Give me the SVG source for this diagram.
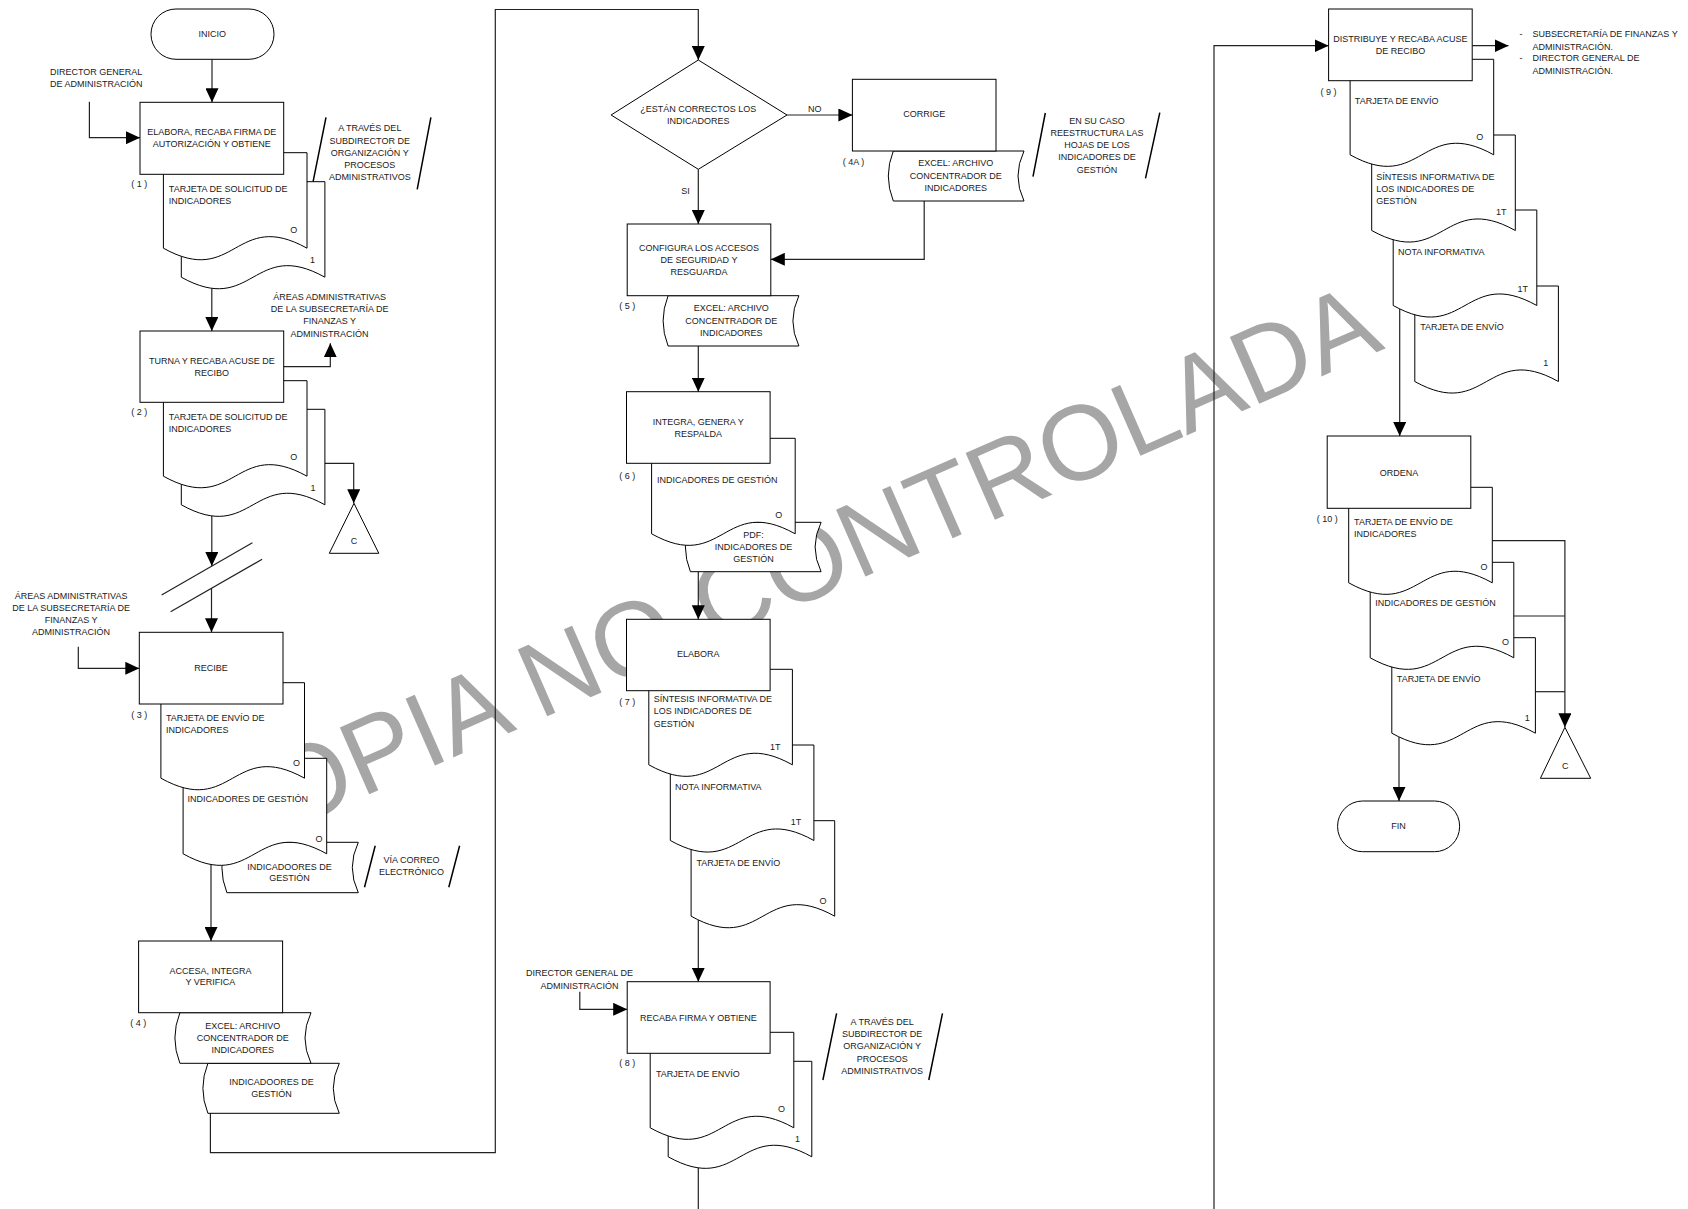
<svg xmlns="http://www.w3.org/2000/svg" width="1688" height="1209" viewBox="0 0 1688 1209">
<defs>
<style>
.n{fill:#fff;stroke:#000;stroke-width:1}
.t{font-family:"Liberation Sans",Arial,sans-serif;font-size:9px;fill:#1a1a1a;dominant-baseline:central}
.m{text-anchor:middle}
.e{fill:none;stroke:#222;stroke-width:1.2}
.a{marker-end:url(#ah)}
.s{stroke:#000;stroke-width:1.5;fill:none}
.wm{font-family:"Liberation Sans",Arial,sans-serif;font-size:106px;fill:#a6a6a6;text-anchor:middle;dominant-baseline:central}
</style>
<marker id="ah" markerWidth="14" markerHeight="13" refX="14" refY="6.5" orient="auto" markerUnits="userSpaceOnUse"><path d="M0,0 L14,6.5 L0,13 Z" fill="#000"/></marker>
</defs>
<rect width="1688" height="1209" fill="#fff"/>
<text class="wm" transform="translate(786 571) rotate(-23.7)">COPIA NO CONTROLADA</text>

<g id="connectors">
<path class="e a" d="M212,59.3 V102.3"/>
<path class="e a" d="M89.4,101.7 V137.7 H140"/>
<path class="e a" d="M211.8,270 V331"/>
<path class="e a" d="M283.7,366.7 H330.3 V343.3"/>
<path class="e a" d="M324.9,463.3 H353.7 V503.3"/>
<path class="e a" d="M211.8,495 V566"/>
<path class="e" d="M161.6,595 L252.4,542.7"/>
<path class="e" d="M170.6,611.7 L262.1,559.3"/>
<path class="e a" d="M211.5,588 V632.3"/>
<path class="e a" d="M78.3,646.7 V668.3 H139.3"/>
<path class="e a" d="M211,850 V941"/>
<path class="e a" d="M210.4,1105 V1152.7 H495.3 V9.5 H698.3 V60"/>
<path class="e a" d="M787,115 H852.4"/>
<path class="e a" d="M698.3,169.3 V224"/>
<path class="e a" d="M924.2,201 V259.3 H770.8"/>
<path class="e a" d="M698.3,346 V391.7"/>
<path class="e a" d="M698.3,571.7 V619.3"/>
<path class="e a" d="M698.3,905 V981.7"/>
<path class="e a" d="M579.8,991.7 V1009.3 H627.2"/>
<path class="e" d="M698.3,1150 V1209"/>
<path class="e a" d="M1214,1209 V45.7 H1328.6"/>
<path class="e a" d="M1472.2,45.7 H1508.5"/>
<path class="e a" d="M1399.7,300 V436"/>
<path class="e a" d="M1492.3,540.7 H1564.9 V727.3"/>
<path class="e" d="M1513.8,616 H1564.9"/>
<path class="e" d="M1535.4,691.7 H1564.9"/>
<path class="e a" d="M1399,730 V801"/>
</g>

<g id="inicio">
<rect class="n" x="151" y="9" width="123" height="50.3" rx="25"/>
<text class="t m" x="212.2" y="33.7">INICIO</text>
</g>

<g id="director1">
<text class="t m" x="96.2" y="71.7">DIRECTOR GENERAL</text>
<text class="t m" x="96.2" y="83.7">DE ADMINISTRACIÓN</text>
</g>

<g id="step1">
<path class="n" d="M181.3,181.7 H324.9 V277.2 C253.1,237.2 253.1,317.2 181.3,277.2 Z"/>
<path class="n" d="M163.4,152.7 H307 V248.2 C235.2,208.2 235.2,288.2 163.4,248.2 Z"/>
<rect class="n" x="140" y="102.3" width="143.7" height="72"/>
<text class="t m" x="211.8" y="131.7">ELABORA, RECABA FIRMA DE</text>
<text class="t m" x="211.8" y="144.3">AUTORIZACIÓN Y OBTIENE</text>
<text class="t m" x="139.3" y="184">( 1 )</text>
<text class="t" x="168.8" y="188.7">TARJETA DE SOLICITUD DE</text>
<text class="t" x="168.8" y="200.7">INDICADORES</text>
<text class="t m" x="293.7" y="230">O</text>
<text class="t m" x="312.4" y="260">1</text>
</g>

<g id="note1">
<path class="s" d="M326,117.3 L313.1,181.7 M430.9,117.3 L417.2,189.3"/>
<text class="t m" x="369.8" y="128.3">A TRAVÉS DEL</text>
<text class="t m" x="369.8" y="140.7">SUBDIRECTOR DE</text>
<text class="t m" x="369.8" y="152.7">ORGANIZACIÓN Y</text>
<text class="t m" x="369.8" y="164.7">PROCESOS</text>
<text class="t m" x="369.8" y="177">ADMINISTRATIVOS</text>
</g>

<g id="areas1">
<text class="t m" x="329.6" y="297">ÁREAS ADMINISTRATIVAS</text>
<text class="t m" x="329.6" y="309.3">DE LA SUBSECRETARÍA DE</text>
<text class="t m" x="329.6" y="321.3">FINANZAS Y</text>
<text class="t m" x="329.6" y="334">ADMINISTRACIÓN</text>
</g>

<g id="step2">
<path class="n" d="M181.3,409.3 H324.9 V504.8 C253.1,464.8 253.1,544.8 181.3,504.8 Z"/>
<path class="n" d="M163.4,380.7 H307 V476.2 C235.2,436.2 235.2,516.2 163.4,476.2 Z"/>
<rect class="n" x="140" y="331" width="143.7" height="71.3"/>
<text class="t m" x="211.8" y="360.7">TURNA Y RECABA ACUSE DE</text>
<text class="t m" x="211.8" y="372.7">RECIBO</text>
<text class="t m" x="139.3" y="412">( 2 )</text>
<text class="t" x="168.8" y="416.7">TARJETA DE SOLICITUD DE</text>
<text class="t" x="168.8" y="428.7">INDICADORES</text>
<text class="t m" x="293.7" y="457.3">O</text>
<text class="t m" x="313.1" y="487.7">1</text>
</g>

<g id="conector-c1">
<path class="n" d="M354,503.3 L378.8,553.3 L329.3,553.3 Z"/>
<text class="t m" x="353.9" y="540.7">C</text>
</g>

<g id="areas2">
<text class="t m" x="71.1" y="595.7">ÁREAS ADMINISTRATIVAS</text>
<text class="t m" x="71.1" y="608.3">DE LA SUBSECRETARÍA DE</text>
<text class="t m" x="71.1" y="620">FINANZAS Y</text>
<text class="t m" x="71.1" y="632.3">ADMINISTRACIÓN</text>
</g>

<g id="step3">
<path class="n" d="M226.9,842.3 H358.3 Q346.3,867.5 358.3,892.7 H226.9 Q216.9,867.5 226.9,842.3 Z"/>
<path class="n" d="M183.1,758.3 H326.7 V853.8 C254.9,813.8 254.9,893.8 183.1,853.8 Z"/>
<path class="n" d="M160.9,682.7 H304.5 V778.2 C232.7,738.2 232.7,818.2 160.9,778.2 Z"/>
<rect class="n" x="139.3" y="632.3" width="143.7" height="71.7"/>
<text class="t m" x="211.1" y="667.7">RECIBE</text>
<text class="t m" x="139.3" y="715">( 3 )</text>
<text class="t" x="165.9" y="718.3">TARJETA DE ENVÍO DE</text>
<text class="t" x="165.9" y="730.3">INDICADORES</text>
<text class="t m" x="296.6" y="762.7">O</text>
<text class="t" x="187.4" y="799.3">INDICADORES DE GESTIÓN</text>
<text class="t m" x="318.9" y="838.7">O</text>
<text class="t m" x="289.4" y="866.7">INDICADOORES DE</text>
<text class="t m" x="289.4" y="878.3">GESTIÓN</text>
</g>

<g id="note3">
<path class="s" d="M375.2,845.7 L364.5,887.3 M459.6,845.7 L448.8,887.3"/>
<text class="t m" x="411.5" y="860">VÍA CORREO</text>
<text class="t m" x="411.5" y="872.3">ELECTRÓNICO</text>
</g>

<g id="step4">
<path class="n" d="M207.9,1063.3 H339.3 Q327.3,1088.3 339.3,1113.3 H207.9 Q197.9,1088.3 207.9,1063.3 Z"/>
<path class="n" d="M179.9,1012.7 H311 Q299,1038 311,1063.3 H179.9 Q169.9,1038 179.9,1012.7 Z"/>
<rect class="n" x="138.6" y="941" width="144" height="71.7"/>
<text class="t m" x="210.4" y="970.7">ACCESA, INTEGRA</text>
<text class="t m" x="210.4" y="982.3">Y VERIFICA</text>
<text class="t m" x="138.2" y="1022.7">( 4 )</text>
<text class="t m" x="242.7" y="1025.7">EXCEL: ARCHIVO</text>
<text class="t m" x="242.7" y="1037.7">CONCENTRADOR DE</text>
<text class="t m" x="242.7" y="1049.7">INDICADORES</text>
<text class="t m" x="271.5" y="1081.7">INDICADOORES DE</text>
<text class="t m" x="271.5" y="1093.7">GESTIÓN</text>
</g>

<g id="decision">
<path class="n" d="M698.3,60 L787,115 L698.3,169.3 L611.1,115 Z"/>
<text class="t m" x="698.3" y="108.7">¿ESTÁN CORRECTOS LOS</text>
<text class="t m" x="698.3" y="120.7">INDICADORES</text>
<text class="t m" x="814.7" y="108.7">NO</text>
<text class="t m" x="685.4" y="191">SI</text>
</g>

<g id="step4a">
<path class="n" d="M893.3,151 H1024 Q1012,176 1024,201 H893.3 Q883.3,176 893.3,151 Z"/>
<rect class="n" x="852.4" y="79.3" width="143.6" height="71.7"/>
<text class="t m" x="924.2" y="114.3">CORRIGE</text>
<text class="t m" x="853.4" y="162.3">( 4A )</text>
<text class="t m" x="955.8" y="163.3">EXCEL: ARCHIVO</text>
<text class="t m" x="955.8" y="175.7">CONCENTRADOR DE</text>
<text class="t m" x="955.8" y="187.7">INDICADORES</text>
</g>

<g id="note4a">
<path class="s" d="M1045.3,113 L1033,176.7 M1159.8,112.7 L1145.5,178.3"/>
<text class="t m" x="1097" y="120.5">EN SU CASO</text>
<text class="t m" x="1097" y="132.8">REESTRUCTURA LAS</text>
<text class="t m" x="1097" y="145">HOJAS DE LOS</text>
<text class="t m" x="1097" y="157.3">INDICADORES DE</text>
<text class="t m" x="1097" y="169.5">GESTIÓN</text>
</g>

<g id="step5">
<path class="n" d="M668.1,295.7 H798.9 Q786.9,320.9 798.9,346 H668.1 Q658.1,320.9 668.1,295.7 Z"/>
<rect class="n" x="627.2" y="224" width="143.6" height="71.7"/>
<text class="t m" x="699" y="248.3">CONFIGURA LOS ACCESOS</text>
<text class="t m" x="699" y="260">DE SEGURIDAD Y</text>
<text class="t m" x="699" y="271.7">RESGUARDA</text>
<text class="t m" x="627.2" y="306">( 5 )</text>
<text class="t m" x="731.3" y="308.3">EXCEL: ARCHIVO</text>
<text class="t m" x="731.3" y="320.7">CONCENTRADOR DE</text>
<text class="t m" x="731.3" y="332.7">INDICADORES</text>
</g>

<g id="step6">
<path class="n" d="M690.4,522.3 H821.1 Q809.1,547 821.1,571.7 H690.4 Q680.4,547 690.4,522.3 Z"/>
<path class="n" d="M651.6,438.3 H795.2 V533.8 C723.4,493.8 723.4,573.8 651.6,533.8 Z"/>
<rect class="n" x="626.5" y="391.7" width="143.6" height="71.6"/>
<text class="t m" x="698.3" y="421.7">INTEGRA, GENERA Y</text>
<text class="t m" x="698.3" y="433.7">RESPALDA</text>
<text class="t m" x="627.2" y="476">( 6 )</text>
<text class="t" x="657" y="479.7">INDICADORES DE GESTIÓN</text>
<text class="t m" x="778.7" y="515">O</text>
<text class="t m" x="753.6" y="535">PDF:</text>
<text class="t m" x="753.6" y="547.3">INDICADORES DE</text>
<text class="t m" x="753.6" y="559.3">GESTIÓN</text>
</g>

<g id="step7">
<path class="n" d="M691.1,820.7 H834.7 V916.2 C762.9,876.2 762.9,956.2 691.1,916.2 Z"/>
<path class="n" d="M670.3,745 H813.9 V840.5 C742.1,800.5 742.1,880.5 670.3,840.5 Z"/>
<path class="n" d="M648.8,669.3 H792.4 V764.8 C720.6,724.8 720.6,804.8 648.8,764.8 Z"/>
<rect class="n" x="626.5" y="619.3" width="143.6" height="71.4"/>
<text class="t m" x="698.3" y="654.3">ELABORA</text>
<text class="t m" x="627.2" y="701.7">( 7 )</text>
<text class="t" x="653.8" y="698.7">SÍNTESIS INFORMATIVA DE</text>
<text class="t" x="653.8" y="711.3">LOS INDICADORES DE</text>
<text class="t" x="653.8" y="723.7">GESTIÓN</text>
<text class="t m" x="775.2" y="746.7">1T</text>
<text class="t" x="675" y="786.7">NOTA INFORMATIVA</text>
<text class="t m" x="796" y="822.3">1T</text>
<text class="t" x="696.5" y="862.7">TARJETA DE ENVÍO</text>
<text class="t m" x="822.9" y="900.7">O</text>
</g>

<g id="director8">
<text class="t m" x="579.5" y="972.7">DIRECTOR GENERAL DE</text>
<text class="t m" x="579.5" y="985.7">ADMINISTRACIÓN</text>
</g>

<g id="step8">
<path class="n" d="M668.2,1061.3 H811.8 V1156.8 C740,1116.8 740,1196.8 668.2,1156.8 Z"/>
<path class="n" d="M650.2,1032.3 H793.8 V1127.8 C722,1087.8 722,1167.8 650.2,1127.8 Z"/>
<rect class="n" x="627.2" y="981.7" width="142.9" height="71.6"/>
<text class="t m" x="698.3" y="1017.7">RECABA FIRMA Y OBTIENE</text>
<text class="t m" x="627.2" y="1062.7">( 8 )</text>
<text class="t" x="656" y="1073.7">TARJETA DE ENVÍO</text>
<text class="t m" x="781.6" y="1109">O</text>
<text class="t m" x="797.4" y="1138.7">1</text>
</g>

<g id="note8">
<path class="s" d="M836.6,1013.3 L822.9,1080 M942.5,1013.3 L928.8,1080"/>
<text class="t m" x="882.2" y="1021.7">A TRAVÉS DEL</text>
<text class="t m" x="882.2" y="1034">SUBDIRECTOR DE</text>
<text class="t m" x="882.2" y="1046">ORGANIZACIÓN Y</text>
<text class="t m" x="882.2" y="1058.7">PROCESOS</text>
<text class="t m" x="882.2" y="1070.7">ADMINISTRATIVOS</text>
</g>

<g id="step9">
<path class="n" d="M1414.8,286 H1558.4 V381.5 C1486.6,341.5 1486.6,421.5 1414.8,381.5 Z"/>
<path class="n" d="M1393.2,210 H1536.8 V305.5 C1465,265.5 1465,345.5 1393.2,305.5 Z"/>
<path class="n" d="M1371.7,135 H1515.3 V230.5 C1443.5,190.5 1443.5,270.5 1371.7,230.5 Z"/>
<path class="n" d="M1350.1,59.3 H1493.7 V154.8 C1421.9,114.8 1421.9,194.8 1350.1,154.8 Z"/>
<rect class="n" x="1328.6" y="9" width="143.6" height="71.7"/>
<text class="t m" x="1400.4" y="38.7">DISTRIBUYE Y RECABA ACUSE</text>
<text class="t m" x="1400.4" y="51">DE RECIBO</text>
<text class="t m" x="1328.6" y="91.7">( 9 )</text>
<text class="t" x="1354.8" y="101">TARJETA DE ENVÍO</text>
<text class="t m" x="1479.8" y="137.3">O</text>
<text class="t" x="1376.3" y="176.7">SÍNTESIS INFORMATIVA DE</text>
<text class="t" x="1376.3" y="188.7">LOS INDICADORES DE</text>
<text class="t" x="1376.3" y="201">GESTIÓN</text>
<text class="t m" x="1501.3" y="212.3">1T</text>
<text class="t" x="1397.9" y="251.7">NOTA INFORMATIVA</text>
<text class="t m" x="1522.8" y="289.3">1T</text>
<text class="t" x="1420.2" y="327.3">TARJETA DE ENVÍO</text>
<text class="t m" x="1545.8" y="363.3">1</text>
</g>

<g id="destinatarios">
<text class="t m" x="1521" y="34.3">-</text>
<text class="t" x="1532.5" y="34.3">SUBSECRETARÍA DE FINANZAS Y</text>
<text class="t" x="1532.5" y="46.7">ADMINISTRACIÓN.</text>
<text class="t m" x="1521" y="58.3">-</text>
<text class="t" x="1532.5" y="58.3">DIRECTOR GENERAL DE</text>
<text class="t" x="1532.5" y="71">ADMINISTRACIÓN.</text>
</g>

<g id="step10">
<path class="n" d="M1391.8,637.7 H1535.4 V733.2 C1463.6,693.2 1463.6,773.2 1391.8,733.2 Z"/>
<path class="n" d="M1370.2,562.3 H1513.8 V657.8 C1442,617.8 1442,697.8 1370.2,657.8 Z"/>
<path class="n" d="M1348.7,487.3 H1492.3 V582.8 C1420.5,542.8 1420.5,622.8 1348.7,582.8 Z"/>
<rect class="n" x="1327.2" y="436" width="143.6" height="72.3"/>
<text class="t m" x="1399" y="472.7">ORDENA</text>
<text class="t m" x="1327.2" y="519">( 10 )</text>
<text class="t" x="1354.1" y="522.3">TARJETA DE ENVÍO DE</text>
<text class="t" x="1354.1" y="534.3">INDICADORES</text>
<text class="t m" x="1484" y="567.3">O</text>
<text class="t" x="1375.3" y="602.7">INDICADORES DE GESTIÓN</text>
<text class="t m" x="1505.6" y="642.3">O</text>
<text class="t" x="1396.8" y="679.3">TARJETA DE ENVÍO</text>
<text class="t m" x="1527.2" y="718.3">1</text>
</g>

<g id="conector-c2">
<path class="n" d="M1564.9,727.3 L1590.7,778.3 L1540.4,778.3 Z"/>
<text class="t m" x="1565.2" y="765.7">C</text>
</g>

<g id="fin">
<rect class="n" x="1337.6" y="801" width="122" height="50.7" rx="25"/>
<text class="t m" x="1398.6" y="825.7">FIN</text>
</g>
</svg>
